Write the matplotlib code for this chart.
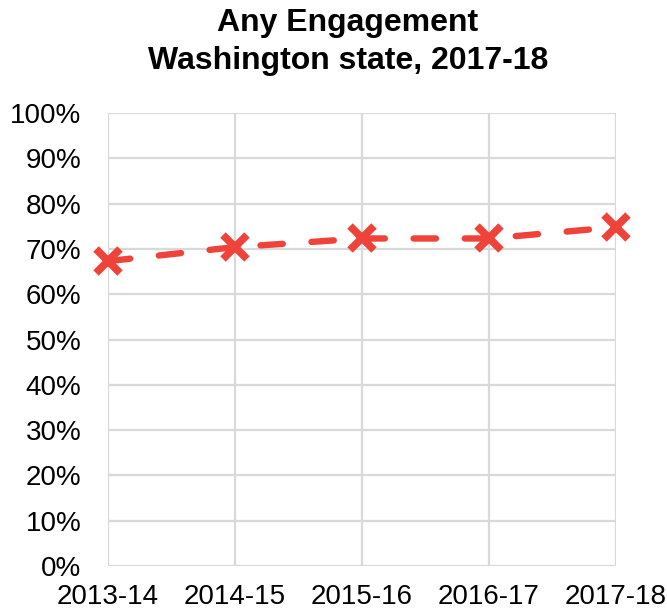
import matplotlib
matplotlib.use('Agg')
import matplotlib.pyplot as plt
from matplotlib.ticker import PercentFormatter

years = ['2013-14', '2014-15', '2015-16', '2016-17', '2017-18']
engagement = [67.3, 70.4, 72.3, 72.3, 74.8]
y_ticks = list(range(0, 101, 10))

plt.rcParams['font.family'] = ['Liberation Sans', 'DejaVu Sans']

fig = plt.figure(figsize=(6.67, 6.09), dpi=100)
ax = fig.add_axes([108 / 667, 1 - 566 / 609, 508 / 667, 453 / 609])

x = list(range(len(years)))
ax.plot(x, engagement, color='#EF4238', linewidth=4.6, linestyle=(0, (3.5, 4.5)),
        dash_capstyle='round', marker='x', markersize=17, markeredgewidth=5.5,
        zorder=3, clip_on=False)

ax.set_xlim(0, len(years) - 1)
ax.set_ylim(0, 100)
ax.set_xticks(x)
ax.set_xticklabels(years)
ax.set_yticks(y_ticks)
ax.yaxis.set_major_formatter(PercentFormatter(decimals=0))

ax.grid(True, color='#d9d9d9', linewidth=1.6)
for s in ax.spines.values():
    s.set_visible(False)
ax.tick_params(length=0, labelsize=20)
ax.tick_params(axis='y', pad=19)
ax.tick_params(axis='x', pad=13)

fig.text(348 / 667, 1 - 42 / 609, 'Any Engagement\nWashington state, 2017-18',
         ha='center', va='center', fontsize=23, fontweight='bold', linespacing=1.35)

fig.savefig('out.png', dpi=100)
